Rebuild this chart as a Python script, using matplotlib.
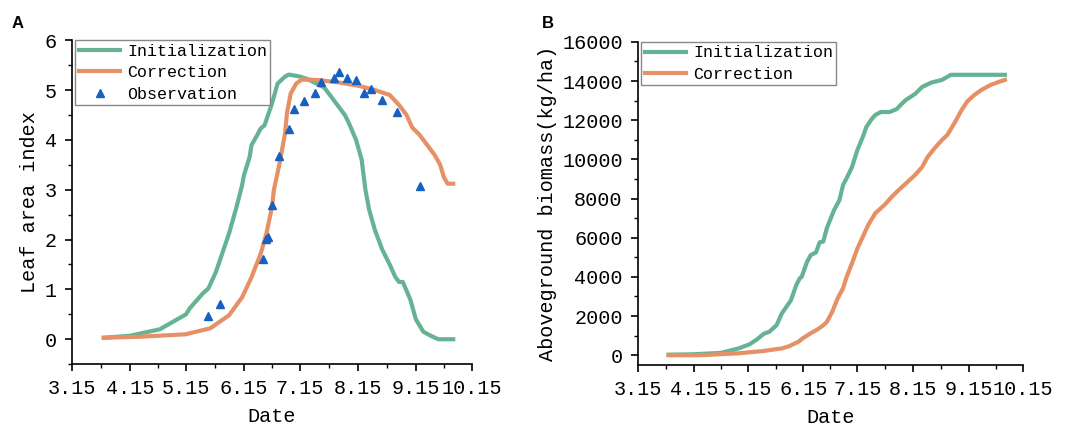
import numpy as np
import pandas as pd
import matplotlib
matplotlib.use("Agg")
import matplotlib.pyplot as plt
from matplotlib.ticker import MultipleLocator

plt.rcParams['font.family'] = ['Liberation Mono', 'DejaVu Sans']

YEAR = "2021-"

# Leaf area index - initialization
lai_init_dates = ["04-01", "04-15", "05-01", "05-15", "05-17", "05-24", "05-27", "05-31",
                  "06-03", "06-07", "06-11", "06-14", "06-15", "06-18", "06-19", "06-22",
                  "06-24", "06-26", "06-30", "07-03", "07-07", "07-09", "07-15", "07-19",
                  "07-28", "08-02", "08-08", "08-10", "08-14", "08-17", "08-19", "08-21",
                  "08-24", "08-28", "09-01", "09-04", "09-06", "09-08", "09-12", "09-15",
                  "09-19", "09-23", "09-27", "10-05"]
lai_init = [0.03, 0.07, 0.2, 0.5, 0.62, 0.92, 1.02, 1.35,
            1.68, 2.12, 2.65, 3.09, 3.29, 3.65, 3.89, 4.09,
            4.23, 4.29, 4.73, 5.13, 5.27, 5.31, 5.27, 5.22,
            5.05, 4.8, 4.5, 4.35, 4.0, 3.6, 3.0, 2.6,
            2.2, 1.8, 1.5, 1.25, 1.15, 1.15, 0.8, 0.4,
            0.15, 0.07, 0.0, 0.0]

# Leaf area index - correction
lai_corr_dates = ["04-01", "04-20", "05-15", "05-17", "05-28", "06-07", "06-14", "06-19",
                  "06-24", "06-27", "06-30", "07-01", "07-04", "07-07", "07-08", "07-10",
                  "07-13", "07-16", "07-25", "08-05", "08-16", "08-24", "09-01", "09-06",
                  "09-10", "09-13", "09-17", "09-21", "09-25", "09-28", "09-30", "10-02",
                  "10-05"]
lai_corr = [0.03, 0.05, 0.1, 0.12, 0.22, 0.48, 0.84, 1.24,
            1.72, 2.12, 2.65, 2.99, 3.52, 4.13, 4.53, 4.93,
            5.13, 5.21, 5.2, 5.15, 5.08, 5.0, 4.9, 4.7,
            4.5, 4.25, 4.1, 3.9, 3.7, 3.5, 3.25, 3.12,
            3.12]

# Leaf area index - observation
lai_obs_dates = ["05-27", "06-02", "06-25", "06-27", "06-28", "06-30", "07-04", "07-09",
                 "07-12", "07-17", "07-23", "07-26", "08-02", "08-05", "08-09", "08-14",
                 "08-18", "08-22", "08-28", "09-05", "09-17"]
lai_obs = [0.46, 0.7, 1.6, 2.02, 2.05, 2.7, 3.68, 4.22,
           4.62, 4.78, 4.95, 5.16, 5.24, 5.36, 5.24, 5.2,
           4.95, 5.02, 4.8, 4.55, 3.08]

# Aboveground biomass - initialization
bio_init_dates = ["04-01", "04-15", "04-30", "05-10", "05-16", "05-20", "05-24", "05-27",
                  "05-31", "06-03", "06-08", "06-11", "06-13", "06-14", "06-17", "06-19",
                  "06-22", "06-24", "06-26", "06-28", "07-02", "07-05", "07-07", "07-09",
                  "07-12", "07-15", "07-18", "07-20", "07-23", "07-25", "07-28", "08-02",
                  "08-06", "08-08", "08-11", "08-16", "08-20", "08-25", "08-31", "09-05",
                  "09-12", "10-05"]
bio_init = [30, 50, 120, 350, 560, 800, 1100, 1200,
            1530, 2140, 2800, 3580, 3940, 4000, 4770, 5110,
            5250, 5770, 5800, 6490, 7410, 7920, 8690, 9040,
            9610, 10480, 11150, 11660, 12070, 12270, 12420, 12420,
            12580, 12780, 13040, 13340, 13700, 13920, 14060, 14320,
            14320, 14320]

# Aboveground biomass - correction
bio_corr_dates = ["04-01", "04-18", "05-10", "05-24", "06-03", "06-07", "06-12", "06-15",
                  "06-19", "06-23", "06-26", "06-28", "07-01", "07-04", "07-07", "07-09",
                  "07-12", "07-15", "07-18", "07-21", "07-25", "07-30", "08-03", "08-07",
                  "08-12", "08-16", "08-20", "08-23", "08-27", "08-31", "09-03", "09-07",
                  "09-11", "09-14", "09-18", "09-22", "09-27", "10-02", "10-05"]
bio_corr = [0, 0, 100, 220, 350, 460, 680, 890,
            1120, 1330, 1530, 1700, 2220, 2900, 3420, 4000,
            4700, 5450, 6050, 6650, 7260, 7670, 8080, 8440,
            8860, 9200, 9610, 10120, 10580, 10990, 11250, 11860,
            12530, 12950, 13290, 13550, 13800, 13970, 14060]

tick_dates = ["03-15", "04-15", "05-15", "06-15", "07-15", "08-15", "09-15", "10-15"]
tick_labels = ["3.15", "4.15", "5.15", "6.15", "7.15", "8.15", "9.15", "10.15"]

GREEN = "#66b394"
ORANGE = "#e69065"
BLUE = "#1660c0"


def to_dates(lst):
    return pd.to_datetime([YEAR + d for d in lst])


def style_axis(ax):
    ticks = to_dates(tick_dates)
    ax.set_xticks(ticks)
    ax.set_xticklabels(tick_labels)
    tnum = matplotlib.dates.date2num(ticks)
    ax.set_xticks((tnum[:-1] + tnum[1:]) / 2, minor=True)
    ax.set_xlim(ticks[0], ticks[-1])
    ax.spines['top'].set_visible(False)
    ax.spines['right'].set_visible(False)
    ax.tick_params(axis='both', which='major', length=5, width=1.2, labelsize=14.5, pad=6)
    ax.tick_params(axis='both', which='minor', length=3, width=1.0)
    for s in ['left', 'bottom']:
        ax.spines[s].set_linewidth(1.2)
    ax.set_xlabel("Date", fontsize=14.5, labelpad=6)


def add_legend(ax):
    ax.legend(loc='upper left', bbox_to_anchor=(0.0, 1.01), fontsize=12, frameon=True,
              fancybox=False, edgecolor='#888888', framealpha=1, borderpad=0.2,
              labelspacing=0.4, handlelength=2.5, handletextpad=0.4, borderaxespad=0.2)


fig = plt.figure(figsize=(10.75, 4.32), dpi=100)

# Panel A
ax1 = fig.add_axes([0.067, 0.157, 0.372, 0.75])
ax1.plot(to_dates(lai_init_dates), lai_init, color=GREEN, lw=3, label="Initialization")
ax1.plot(to_dates(lai_corr_dates), lai_corr, color=ORANGE, lw=3, label="Correction")
ax1.plot(to_dates(lai_obs_dates), lai_obs, linestyle='none', marker='^', ms=6,
         color=BLUE, label="Observation")
style_axis(ax1)
ax1.set_ylim(-0.5, 6)
ax1.yaxis.set_major_locator(MultipleLocator(1))
ax1.yaxis.set_minor_locator(MultipleLocator(0.5))
ax1.set_ylabel("Leaf area index", fontsize=14.5, labelpad=4)
add_legend(ax1)
fig.text(0.011, 0.935, "A", fontsize=12, fontweight='bold', family='Liberation Sans')

# Panel B
ax2 = fig.add_axes([0.5935, 0.155, 0.358, 0.748])
ax2.plot(to_dates(bio_init_dates), bio_init, color=GREEN, lw=3, label="Initialization")
ax2.plot(to_dates(bio_corr_dates), bio_corr, color=ORANGE, lw=3, label="Correction")
style_axis(ax2)
ax2.set_ylim(-500, 16000)
ax2.yaxis.set_major_locator(MultipleLocator(2000))
ax2.yaxis.set_minor_locator(MultipleLocator(1000))
ax2.set_ylabel("Aboveground biomass(kg/ha)", fontsize=14.5, labelpad=4)
add_legend(ax2)
fig.text(0.504, 0.935, "B", fontsize=12, fontweight='bold', family='Liberation Sans')

fig.savefig("out.png", dpi=100)
